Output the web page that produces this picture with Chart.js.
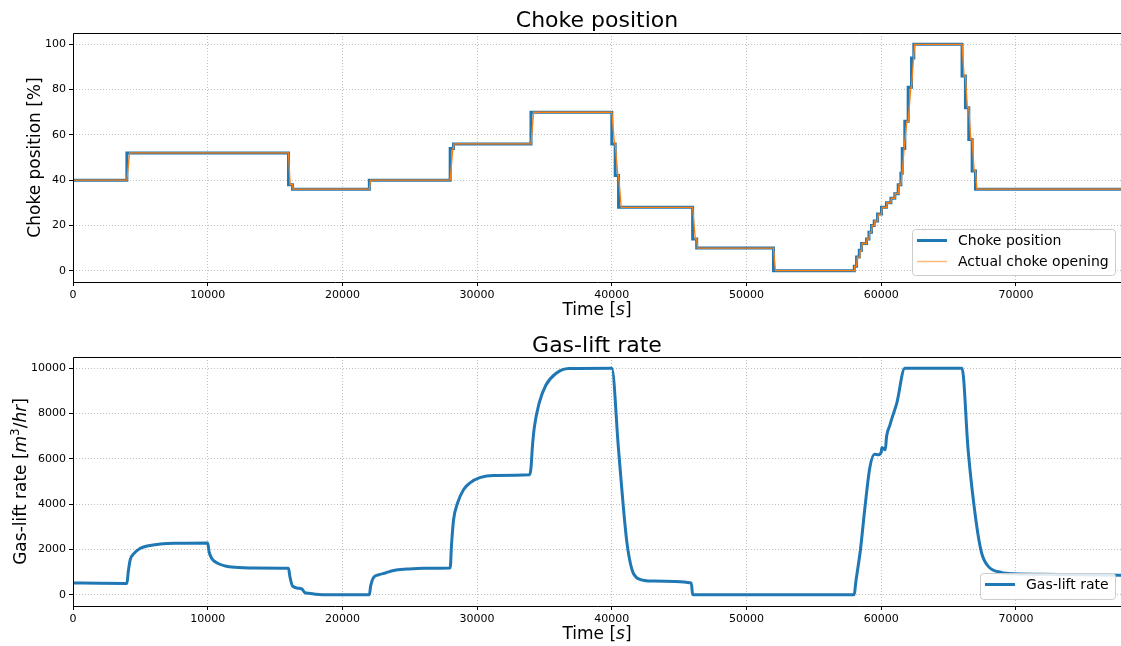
<!DOCTYPE html>
<html>
<head>
<meta charset="utf-8">
<script src="https://cdn.jsdelivr.net/npm/chart.js@4.4.1/dist/chart.umd.min.js"></script>
<style>
  html, body { margin: 0; padding: 0; background: #fff; }
  #wrap { position: relative; width: 1121px; height: 646px; overflow: hidden; }
  .panel { position: absolute; left: 0; width: 1121px; height: 323px; }
</style>
</head>
<body>
<div id="wrap">
  <div class="panel" style="top:0"><canvas id="chokeChart" width="1121" height="323"></canvas></div>
  <div class="panel" style="top:323px"><canvas id="gasChart" width="1121" height="323"></canvas></div>
</div>
<script>
// ---------- data ----------
// x range / ticks (time in s)
const X_MAX = 77800;
const xTicks = [0, 10000, 20000, 30000, 40000, 50000, 60000, 70000];
const chokeTicks = [0, 20, 40, 60, 80, 100];
const gasTicks = [0, 2000, 4000, 6000, 8000, 10000];

// choke position setpoint: time of change -> new value (stepped)
const chokeT = [0, 4000, 16000, 16300, 22000, 28000, 28250, 34000, 40000, 40250, 40500, 46000, 46300, 52000,
  58000, 58170, 58370, 58540, 58910, 59090, 59280, 59480, 59730, 60020, 60390, 60720, 61010, 61260, 61460,
  61560, 61750, 62000, 62250, 62420, 66000, 66250, 66500, 66750, 67000, 77800];
const chokeV = [40, 52, 38, 36, 40, 54, 56, 70, 56, 42, 28, 14, 10, 0,
  2, 6, 9, 12, 14, 17, 20, 22, 25, 28, 30, 32, 34, 38, 43,
  54, 66, 81, 94, 100, 86, 72, 58, 44, 36, 36];

// actual choke opening (follows the setpoint with short ramps)
const actualT = [0, 4000, 4200, 16000, 16120, 16300, 16340, 22000, 22080, 28000, 28200, 28250, 28290, 34000, 34200,
  40000, 40200, 40250, 40450, 40500, 40700, 46000, 46200, 46300, 46360, 52000, 52150,
  58000, 58030, 58170, 58230, 58370, 58420, 58540, 58590, 58910, 58950, 59090, 59140, 59280, 59330,
  59480, 59520, 59730, 59780, 60020, 60070, 60390, 60420, 60720, 60750, 61010, 61040, 61260, 61320,
  61460, 61530, 61560, 61700, 61750, 61900, 62000, 62200, 62250, 62400, 62420, 62480,
  66000, 66150, 66250, 66400, 66500, 66650, 66750, 66900, 67000, 67100, 77800];
const actualV = [40, 40, 52, 52, 38, 38, 36, 36, 40, 40, 54, 54, 56, 56, 70,
  70, 56, 56, 42, 42, 28, 28, 14, 14, 10, 10, 0,
  0, 2, 2, 6, 6, 9, 9, 12, 12, 14, 14, 17, 17, 20,
  20, 22, 22, 25, 25, 28, 28, 30, 30, 32, 32, 34, 34, 38,
  38, 43, 43, 54, 54, 66, 66, 81, 81, 94, 94, 100,
  100, 86, 86, 72, 72, 58, 58, 44, 44, 36, 36];

// gas-lift rate [m3/hr]
const gasT = [0, 2000, 4000, 4100, 4250, 4500, 5000, 5500, 6500, 8000,
  10000, 10100, 10300, 10700, 11300, 12000, 13500, 16000, 16100, 16300,
  16800, 17000, 17200, 17500, 18000, 18500, 22000, 22100, 22300, 22700,
  23200, 23800, 24800, 26000, 28000, 28100, 28250, 28550, 29000, 29500,
  30200, 31200, 33900, 34000, 34100, 34250, 34600, 35100, 35800, 36800,
  40000, 40500, 41100, 41500, 42000, 43000, 45900, 46000, 58000, 58100,
  58450, 58800, 59150, 59500, 59800, 60000, 60050, 60300, 60400, 60650,
  60800, 61150, 61750, 66000, 66450, 67050, 67450, 67950, 68900, 69900,
  72000, 77800];
const gasV = [520, 500, 490, 1000, 1550, 1800, 2050, 2150, 2240, 2270,
  2280, 1900, 1600, 1400, 1270, 1210, 1180, 1170, 800, 380,
  280, 250, 100, 60, 20, 0, 0, 400, 750, 880,
  960, 1070, 1130, 1170, 1180, 2200, 3300, 4050, 4650, 4950,
  5170, 5270, 5300, 5600, 6500, 7400, 8450, 9250, 9750, 9990,
  10000, 6400, 2400, 1100, 700, 600, 520, 0, 0, 500,
  1950, 3900, 5600, 6200, 6180, 6300, 6500, 6400, 7000, 7500,
  7800, 8450, 10000, 10000, 6400, 3200, 1850, 1250, 980, 920,
  900, 860];

// text pieces: [text, italic, superscript]
const timeLabel = [['Time [', false], ['s', true], [']', false]];
const chokeLabel = [['Choke position [%]', false]];
const gasLabel = [['Gas-lift rate [', false], ['m', true], ['3', false, true], ['/', false], ['hr', true], [']', false]];

const FONT = "'DejaVu Sans', sans-serif";
const BLUE = '#1f77b4';
const ORANGE = '#ff7f0e';

// ---------- helpers ----------
function pts(xs, ys) {
  return xs.map((x, i) => ({ x: x, y: ys[i] }));
}

// draw text made of several styled parts
function drawRich(ctx, parts, x, y, size) {
  const fontOf = p => (p[1] ? 'italic ' : '') + (p[2] ? size * 0.7 : size) + 'px ' + FONT;
  const widths = parts.map(p => { ctx.font = fontOf(p); return ctx.measureText(p[0]).width; });
  let cx = x - widths.reduce((a, b) => a + b, 0) / 2;
  ctx.textAlign = 'left';
  ctx.textBaseline = 'alphabetic';
  parts.forEach((p, i) => {
    ctx.font = fontOf(p);
    ctx.fillText(p[0], cx, p[2] ? y - size * 0.4 : y);
    cx += widths[i];
  });
}

// frame, title, axis labels and legend drawn in matplotlib style
const decoPlugin = {
  id: 'deco',
  afterDatasetsDraw(chart, args, o) {
    const { ctx, chartArea: a } = chart;
    ctx.save();
    // spines
    ctx.strokeStyle = '#000';
    ctx.lineWidth = 1;
    ctx.beginPath();
    ctx.moveTo(a.right + 2, Math.round(a.top) + 0.5);
    ctx.lineTo(Math.round(a.left) + 0.5, Math.round(a.top) + 0.5);
    ctx.lineTo(Math.round(a.left) + 0.5, Math.round(a.bottom) + 0.5);
    ctx.lineTo(a.right + 2, Math.round(a.bottom) + 0.5);
    ctx.stroke();

    // legend box
    const L = o.legend;
    ctx.beginPath();
    ctx.roundRect(L.x + 0.5, L.y + 0.5, L.w, L.h, 3);
    ctx.fillStyle = 'rgba(255,255,255,0.85)';
    ctx.fill();
    ctx.strokeStyle = '#cccccc';
    ctx.lineWidth = 1;
    ctx.stroke();
    L.items.forEach((it, i) => {
      const ly = L.y + 11.5 + i * 21;
      ctx.beginPath();
      ctx.strokeStyle = it.color;
      ctx.lineWidth = it.width;
      ctx.moveTo(L.x + 5, ly);
      ctx.lineTo(L.x + 35, ly);
      ctx.stroke();
      ctx.fillStyle = '#000';
      ctx.font = '14px ' + FONT;
      ctx.textAlign = 'left';
      ctx.textBaseline = 'middle';
      ctx.fillText(it.text, L.x + 46, ly + 1);
    });

    // title and axis labels
    ctx.fillStyle = '#000';
    ctx.font = '22px ' + FONT;
    ctx.textAlign = 'center';
    ctx.textBaseline = 'alphabetic';
    ctx.fillText(o.title, (a.left + a.right) / 2, o.titleY);
    drawRich(ctx, timeLabel, (a.left + a.right) / 2, o.xLabelY, 17);
    ctx.translate(o.yLabelX, (a.top + a.bottom) / 2);
    ctx.rotate(-Math.PI / 2);
    drawRich(ctx, o.yLabel, 0, 0, 17);
    ctx.restore();
  }
};

function axisOpts(min, max, ticks, fit) {
  return {
    type: 'linear',
    min: min,
    max: max,
    afterBuildTicks: s => { s.ticks = ticks.map(v => ({ value: v })); },
    afterFit: fit,
    grid: {
      color: '#b0b0b0', lineWidth: 0.8, borderDash: [1, 2],
      drawTicks: true, tickLength: 4, tickColor: '#000', tickWidth: 1, tickBorderDash: []
    },
    border: { display: false, dash: [1, 2] },
    ticks: {
      color: '#000', font: { family: FONT, size: 11 }, padding: 3,
      maxRotation: 0, autoSkip: false, callback: v => String(v)
    }
  };
}

function makeChart(id, datasets, yMin, yMax, yTicks, padTop, xHeight, deco) {
  return new Chart(document.getElementById(id), {
    type: 'line',
    data: { datasets: datasets },
    options: {
      responsive: false,
      animation: false,
      devicePixelRatio: 1,
      events: [],
      layout: { padding: { top: padTop, left: 0, right: 0, bottom: 0 } },
      scales: {
        x: axisOpts(0, X_MAX, xTicks, s => { s.height = xHeight; }),
        y: axisOpts(yMin, yMax, yTicks, s => { s.width = 73; })
      },
      plugins: { legend: { display: false }, tooltip: { enabled: false }, deco: deco }
    },
    plugins: [decoPlugin]
  });
}

// ---------- Choke position ----------
makeChart('chokeChart', [
  {
    label: 'Choke position',
    data: pts(chokeT, chokeV),
    stepped: 'before',
    borderColor: BLUE,
    borderWidth: 3,
    pointRadius: 0,
    order: 1
  },
  {
    label: 'Actual choke opening',
    data: pts(actualT, actualV),
    borderColor: ORANGE,
    borderWidth: 1.3,
    pointRadius: 0,
    order: 0
  }
], -5, 105, chokeTicks, 33, 41, {
  title: 'Choke position', titleY: 27, xLabelY: 315, yLabelX: 40, yLabel: chokeLabel,
  legend: {
    x: 912, y: 229, w: 203, h: 46, items: [
      { text: 'Choke position', color: BLUE, width: 3 },
      { text: 'Actual choke opening', color: 'rgba(255,127,14,0.55)', width: 1.5 }
    ]
  }
});

// ---------- Gas-lift rate ----------
makeChart('gasChart', [
  {
    label: 'Gas-lift rate',
    data: pts(gasT, gasV),
    cubicInterpolationMode: 'monotone',
    borderColor: BLUE,
    borderWidth: 3,
    borderJoinStyle: 'round',
    pointRadius: 0
  }
], -500, 10500, gasTicks, 34, 40, {
  title: 'Gas-lift rate', titleY: 29, xLabelY: 316, yLabelX: 26, yLabel: gasLabel,
  legend: {
    x: 980, y: 250, w: 135, h: 26, items: [
      { text: 'Gas-lift rate', color: BLUE, width: 3 }
    ]
  }
});
</script>
</body>
</html>
